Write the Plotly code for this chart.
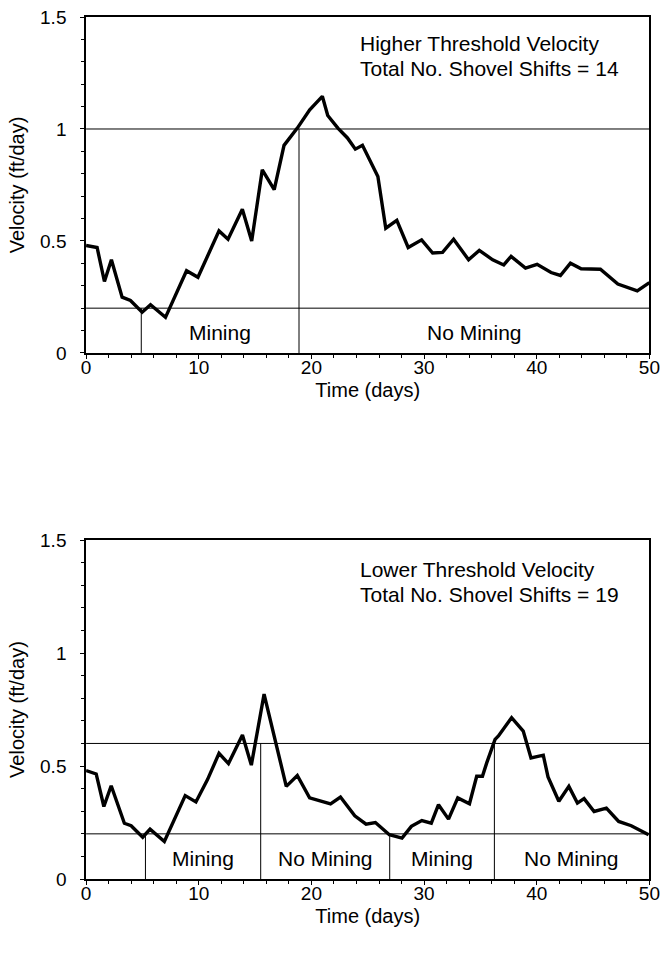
import plotly.graph_objects as go

# ---------------- data ----------------
top_days = [0, 0.98, 1.63, 2.25, 3.2, 3.94, 4.98, 5.72, 7.05, 7.94, 8.92, 9.93, 10.9, 11.8,
            12.6, 13.87, 14.7, 15.64, 16.7, 17.57, 18.75, 19.85, 20.97, 21.45, 22.35, 23.2,
            23.9, 24.53, 25.9, 26.6, 27.58, 28.59, 29.78, 30.76, 31.64, 32.62, 33.95, 34.9,
            36.09, 37.07, 37.72, 39.0, 40.03, 41.27, 42.1, 42.99, 43.94, 44.8, 45.65, 47.2,
            47.8, 48.92, 50]
top_vel = [0.480, 0.471, 0.319, 0.416, 0.249, 0.234, 0.182, 0.215, 0.159, 0.259, 0.367,
           0.338, 0.446, 0.545, 0.508, 0.642, 0.500, 0.818, 0.729, 0.927, 1.004, 1.086,
           1.146, 1.060, 1.004, 0.960, 0.910, 0.927, 0.788, 0.557, 0.592, 0.471, 0.505,
           0.446, 0.449, 0.508, 0.416, 0.458, 0.416, 0.393, 0.431, 0.379, 0.396, 0.359,
           0.346, 0.401, 0.376, 0.375, 0.374, 0.308, 0.297, 0.277, 0.314]

bot_days = [0, 0.9, 1.58, 2.23, 3.4, 4.0, 5.03, 5.68, 6.95, 7.83, 8.8, 9.75, 10.78, 11.8,
            12.64, 13.88, 14.67, 15.8, 17.77, 18.75, 19.84, 21.7, 22.58, 23.85, 24.85, 25.68,
            26.92, 28.04, 28.87, 29.8, 30.64, 31.28, 32.17, 32.99, 34.03, 34.67, 35.18, 35.56,
            36.3, 36.6, 37.77, 38.8, 39.49, 40.58, 41.0, 41.96, 42.85, 43.61, 44.2, 45.09,
            46.18, 47.27, 48.39, 49.93]
bot_vel = [0.480, 0.465, 0.321, 0.413, 0.247, 0.236, 0.185, 0.221, 0.166, 0.262, 0.369,
           0.341, 0.440, 0.556, 0.511, 0.637, 0.504, 0.818, 0.410, 0.458, 0.359, 0.333,
           0.363, 0.280, 0.243, 0.250, 0.196, 0.181, 0.233, 0.259, 0.247, 0.329, 0.265,
           0.359, 0.333, 0.455, 0.455, 0.514, 0.618, 0.633, 0.714, 0.655, 0.536, 0.548,
           0.452, 0.344, 0.410, 0.336, 0.356, 0.299, 0.314, 0.255, 0.236, 0.196]

# thresholds (upper, lower) and shovel-shift boundaries (day, top of line)
top_thresholds = [1.0, 0.2]
top_bounds = [(4.9, 0.2), (18.9, 1.0)]
top_labels = ["Mining", "No Mining"]
top_note = ["Higher Threshold Velocity", "Total No. Shovel Shifts = 14"]

bot_thresholds = [0.6, 0.2]
bot_bounds = [(5.27, 0.2), (15.5, 0.6), (26.95, 0.2), (36.24, 0.6)]
bot_labels = ["Mining", "No Mining", "Mining", "No Mining"]
bot_note = ["Lower Threshold Velocity", "Total No. Shovel Shifts = 19"]

x_ticks = [0, 10, 20, 30, 40, 50]
y_ticks = [0, 0.5, 1, 1.5]
y_ticktext = ["0", "0.5", "1", "1.5"]

# ---------------- figure ----------------
FONT = "Liberation Sans, Arial, Helvetica, sans-serif"
fig = go.Figure()

panels = [
    ("x", "y", top_days, top_vel, top_thresholds, top_bounds, top_labels, top_note, (1.386, 1.274)),
    ("x2", "y2", bot_days, bot_vel, bot_thresholds, bot_bounds, bot_labels, bot_note, (1.373, 1.262)),
]

for xa, ya, days, vel, thr, bounds, labels, note, note_y in panels:
    fig.add_trace(go.Scatter(x=days, y=vel, xaxis=xa, yaxis=ya, mode="lines",
                             line=dict(color="black", width=3.4), showlegend=False,
                             hoverinfo="skip"))
    for t in thr:
        fig.add_shape(type="line", xref=xa, yref=ya, x0=0, x1=50, y0=t, y1=t,
                      line=dict(color="black", width=1))
    for d, top in bounds:
        fig.add_shape(type="line", xref=xa, yref=ya, x0=d, x1=d, y0=0, y1=top,
                      line=dict(color="black", width=1))
    edges = [b[0] for b in bounds] + [50]
    for i, lab in enumerate(labels):
        mid = (edges[i] + edges[i + 1]) / 2
        fig.add_annotation(x=mid, y=0.09, xref=xa, yref=ya, text=lab, showarrow=False,
                           font=dict(family=FONT, size=21, color="black"))
    for j, line in enumerate(note):
        fig.add_annotation(x=24.1, y=note_y[j], xref=xa, yref=ya, text=line,
                           showarrow=False, xanchor="left", yshift=-1,
                           font=dict(family=FONT, size=21, color="black"))

TICKFONT = dict(family=FONT, size=19, color="black")
TITLEFONT = dict(family=FONT, size=20, color="black")
axis_common = dict(showgrid=False, zeroline=False, showline=True, linecolor="black",
                   linewidth=1.6, mirror=True, ticks="outside", ticklen=4, tickwidth=1,
                   tickcolor="black", tickfont=TICKFONT, automargin=False)

xdom = [0.130, 0.981]
xa_kw = dict(range=[0, 50], tickvals=x_ticks, ticklabelstandoff=-8,
             minor=dict(dtick=2, ticks="outside", ticklen=3, tickcolor="black"),
             **axis_common)
ya_kw = dict(range=[0, 1.5], tickvals=y_ticks, ticktext=y_ticktext, ticklabelstandoff=10,
             minor=dict(dtick=0.1, ticks="outside", ticklen=3, tickcolor="black"),
             **axis_common)

fig.update_layout(
    width=662, height=956, margin=dict(l=0, r=0, t=0, b=0),
    paper_bgcolor="white", plot_bgcolor="white",
    xaxis=dict(domain=xdom, anchor="y",
               title=dict(text="Time (days)", font=TITLEFONT, standoff=6), **xa_kw),
    yaxis=dict(domain=[0.6308, 0.9822], anchor="x",
               title=dict(text="Velocity (ft/day)", font=TITLEFONT, standoff=10), **ya_kw),
    xaxis2=dict(domain=xdom, anchor="y2",
                title=dict(text="Time (days)", font=TITLEFONT, standoff=6), **xa_kw),
    yaxis2=dict(domain=[0.0805, 0.4351], anchor="x2",
                title=dict(text="Velocity (ft/day)", font=TITLEFONT, standoff=10), **ya_kw),
)

fig.write_html("out.html")
